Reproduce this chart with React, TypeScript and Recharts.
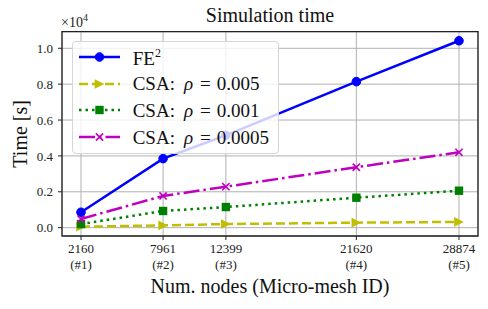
import React from "react";
import {
  LineChart, Line, XAxis, YAxis, CartesianGrid, Legend, ReferenceArea,
} from "recharts";

const nodes = [2160, 7961, 12399, 21620, 28874];
const meshIds = ["#1", "#2", "#3", "#4", "#5"];
const fe2 = [858, 3850, 5150, 8140, 10420];
const csa005 = [50, 130, 200, 280, 320];
const csa001 = [200, 930, 1150, 1670, 2060];
const csa0005 = [485, 1770, 2285, 3370, 4200];
const yTicks = [0, 2000, 4000, 6000, 8000, 10000];

const X_DOMAIN: [number, number] = [817, 30217];
const Y_DOMAIN: [number, number] = [-465, 10925];

const FONT = "'Liberation Serif', 'DejaVu Serif', serif";

const data = nodes.map((n, i) => ({
  nodes: n,
  id: meshIds[i],
  fe2: fe2[i],
  csa005: csa005[i],
  csa001: csa001[i],
  csa0005: csa0005[i],
}));

const BLUE = "#0000ff";
const YELLOW = "#bfbf00";
const GREEN = "#008000";
const MAGENTA = "#bf00bf";

function Circle({ cx, cy, color }: any) {
  return <circle cx={cx} cy={cy} r={4.3} fill={color} stroke={color} />;
}
function Triangle({ cx, cy, color }: any) {
  const s = 4.8;
  return <polygon points={`${cx + s},${cy} ${cx - s},${cy - s} ${cx - s},${cy + s}`} fill={color} />;
}
function Square({ cx, cy, color }: any) {
  const s = 4.2;
  return <rect x={cx - s} y={cy - s} width={2 * s} height={2 * s} fill={color} />;
}
function Cross({ cx, cy, color }: any) {
  const s = 3.6;
  return (
    <g stroke={color} strokeWidth={1.6}>
      <line x1={cx - s} y1={cy - s} x2={cx + s} y2={cy + s} />
      <line x1={cx - s} y1={cy + s} x2={cx + s} y2={cy - s} />
    </g>
  );
}

const series = [
  { key: "fe2", color: BLUE, dash: undefined, Marker: Circle, label: "fe2" },
  { key: "csa005", color: YELLOW, dash: "9 4", Marker: Triangle, label: "0.005" },
  { key: "csa001", color: GREEN, dash: "2.5 4", Marker: Square, label: "0.001" },
  { key: "csa0005", color: MAGENTA, dash: "16 4 2.5 4", Marker: Cross, label: "0.0005" },
];

function XTick({ x, y, payload }: any) {
  const i = nodes.indexOf(payload.value);
  return (
    <text x={x} y={y} textAnchor="middle" fontFamily={FONT} fontSize={13} fill="#222">
      <tspan x={x} dy={11}>{payload.value}</tspan>
      <tspan x={x} dy={16}>({meshIds[i]})</tspan>
    </text>
  );
}

function LegendBox() {
  return (
    <div
      style={{
        width: 207,
        height: 113,
        boxSizing: "border-box",
        background: "rgba(255,255,255,0.8)",
        border: "1px solid #d6d6d6",
        borderRadius: 4,
        fontFamily: FONT,
        fontSize: 19,
        color: "#111",
        paddingTop: 2,
      }}
    >
      {series.map((s) => (
        <div key={s.key} style={{ display: "flex", alignItems: "center", height: 26.7, lineHeight: 1 }}>
          <svg width={55} height={20} style={{ marginLeft: 5, flexShrink: 0 }}>
            <line x1={1} y1={10} x2={42} y2={10} stroke={s.color} strokeWidth={2.5} strokeDasharray={s.dash} />
            <s.Marker cx={21.5} cy={10} color={s.color} />
          </svg>
          {s.key === "fe2" ? (
            <span>
              FE<sup style={{ fontSize: 12, verticalAlign: "8px" }}>2</sup>
            </span>
          ) : (
            <span style={{ whiteSpace: "pre" }}>
              CSA:<i style={{ marginLeft: 9 }}>ρ</i>
              <span style={{ margin: "0 6px 0 7px" }}>=</span>
              {s.label}
            </span>
          )}
        </div>
      ))}
    </div>
  );
}

export default function App() {
  return (
    <div style={{ position: "fixed", left: 0, top: 0, width: 488, height: 309, background: "#fff" }}>
      <LineChart
        width={488}
        height={309}
        data={data}
        margin={{ top: 31.7, right: 10, left: 0, bottom: 0 }}
      >
        <CartesianGrid stroke="#b0b0b0" strokeWidth={1} />
        <XAxis
          dataKey="nodes"
          type="number"
          domain={X_DOMAIN}
          ticks={nodes}
          allowDataOverflow
          height={73}
          tickSize={4}
          tick={<XTick />}
          axisLine={false}
          tickLine={{ stroke: "#222" }}
          label={{
            content: ({ viewBox }: any) => (
              <text
                x={viewBox.x + viewBox.width / 2}
                y={viewBox.y + 57}
                textAnchor="middle"
                fontFamily={FONT}
                fontSize={20}
                fill="#111"
              >
                Num. nodes (Micro-mesh ID)
              </text>
            ),
          }}
        />
        <YAxis
          type="number"
          domain={Y_DOMAIN}
          ticks={yTicks}
          allowDataOverflow
          width={62}
          tickSize={4}
          tickMargin={5}
          axisLine={false}
          tickLine={{ stroke: "#222" }}
          tick={{ fontFamily: FONT, fontSize: 13, fill: "#222" }}
          tickFormatter={(v: number) => (v / 10000).toFixed(1)}
          label={{
            content: ({ viewBox }: any) => {
              const cx = viewBox.x + 20;
              const cy = viewBox.y + viewBox.height / 2;
              const top = viewBox.y;
              return (
                <g>
                  <text
                    x={cx}
                    y={cy}
                    transform={`rotate(-90 ${cx} ${cy})`}
                    textAnchor="middle"
                    dominantBaseline="central"
                    fontFamily={FONT}
                    fontSize={20}
                    fill="#111"
                  >
                    Time [s]
                  </text>
                  <text x={viewBox.x + viewBox.width - 1} y={top - 4.5} fontFamily={FONT} fontSize={14} fill="#222">
                    ×10
                    <tspan fontSize={10} dy={-6}>4</tspan>
                  </text>
                  <text
                    x={244 + 26}
                    y={top - 10}
                    textAnchor="middle"
                    fontFamily={FONT}
                    fontSize={20}
                    fill="#111"
                  >
                    Simulation time
                  </text>
                </g>
              );
            },
          }}
        />
        <ReferenceArea
          x1={X_DOMAIN[0]}
          x2={X_DOMAIN[1]}
          y1={Y_DOMAIN[0]}
          y2={Y_DOMAIN[1]}
          fill="none"
          stroke="#222"
          strokeWidth={1.3}
        />
        {series.map((s) => (
          <Line
            key={s.key}
            dataKey={s.key}
            type="linear"
            stroke={s.color}
            strokeWidth={2.5}
            strokeDasharray={s.dash}
            isAnimationActive={false}
            dot={(p: any) => <s.Marker key={`${s.key}-${p.index}`} cx={p.cx} cy={p.cy} color={s.color} />}
            activeDot={false}
          />
        ))}
        <Legend
          layout="vertical"
          align="center"
          verticalAlign="middle"
          wrapperStyle={{ top: 40.7, left: 71.7, width: 207, height: 113 }}
          content={() => <LegendBox />}
        />
      </LineChart>
    </div>
  );
}
